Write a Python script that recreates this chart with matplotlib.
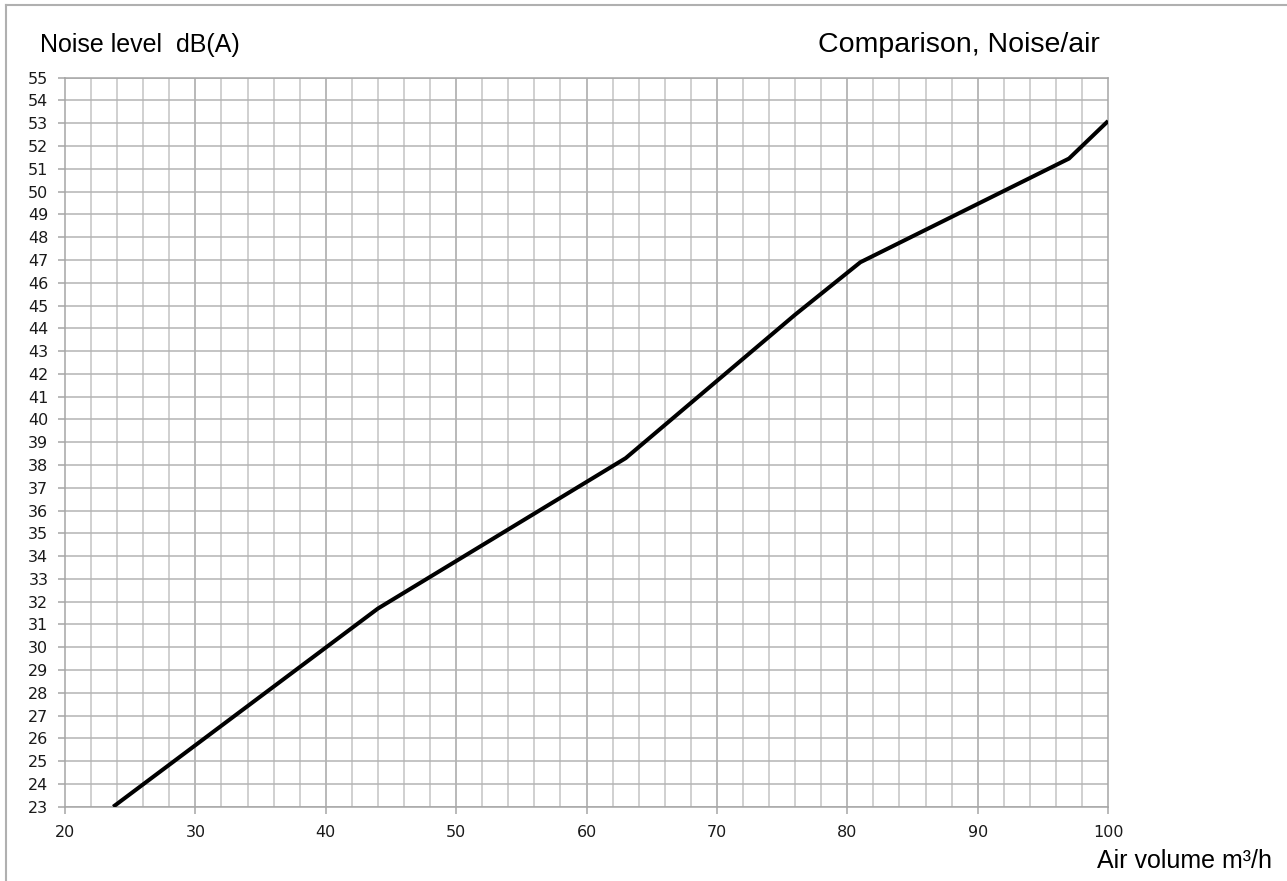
import matplotlib.pyplot as plt
from matplotlib.lines import Line2D
import numpy as np

plt.rcParams['font.family'] = ['Liberation Sans', 'DejaVu Sans']

# Punkte der Kennlinie
luftmenge = [23.7, 44.0, 63.0, 76.0, 81.0, 97.0, 100.0]
schall = [23.0, 31.7, 38.3, 44.6, 46.9, 51.45, 53.1]

x_ticks = list(range(20, 101, 10))
y_ticks = list(range(23, 56))

fig = plt.figure(figsize=(12.87, 8.81), dpi=100)
ax = fig.add_axes([0.0505, 0.0843, 0.8105, 0.8275])

ax.set_xlim(20, 100)
ax.set_ylim(23, 55)

# Gitter: senkrecht alle 2, dunkler alle 10; waagerecht alle 1
for xv in np.arange(22, 100, 2):
    farbe = '#a6a6a6' if xv % 10 == 0 else '#c4c4c4'
    ax.axvline(xv, color=farbe, lw=1.1, zorder=1)
for yv in y_ticks:
    ax.axhline(yv, color='#b4b4b4', lw=1.1, zorder=1)

ax.plot(luftmenge, schall, color='black', lw=2.9, solid_joinstyle='round',
        solid_capstyle='butt', zorder=3, clip_on=True)

ax.set_xticks(x_ticks)
ax.set_yticks(y_ticks)
ax.tick_params(axis='both', direction='out', length=5, width=1.1, color='#a6a6a6',
               labelsize=11.5, pad=7)
ax.tick_params(axis='x', pad=8)
for lab in ax.get_xticklabels() + ax.get_yticklabels():
    lab.set_family(['DejaVu Sans'])
    lab.set_color('#1a1a1a')
for s in ax.spines.values():
    s.set_color('#a6a6a6')
    s.set_linewidth(1.1)

fig.text(40 / 1287, 1 - 45 / 881, 'Noise level  dB(A)', fontsize=18, va='center', ha='left')
fig.text(1100 / 1287, 1 - 45 / 881, 'Comparison, Noise/air', fontsize=20.5, va='center', ha='right')
fig.text(1272 / 1287, 1 - 861 / 881, 'Air volume m³/h', fontsize=18, va='center', ha='right')

# Rahmen oben und links (Bild ist rechts/unten beschnitten)
fig.add_artist(Line2D([6 / 1287, 1.0], [1 - 5 / 881, 1 - 5 / 881], color='#b0b0b0', lw=1.5))
fig.add_artist(Line2D([6 / 1287, 6 / 1287], [0.0, 1 - 5 / 881], color='#b0b0b0', lw=1.5))

fig.savefig('out.png', dpi=100)
